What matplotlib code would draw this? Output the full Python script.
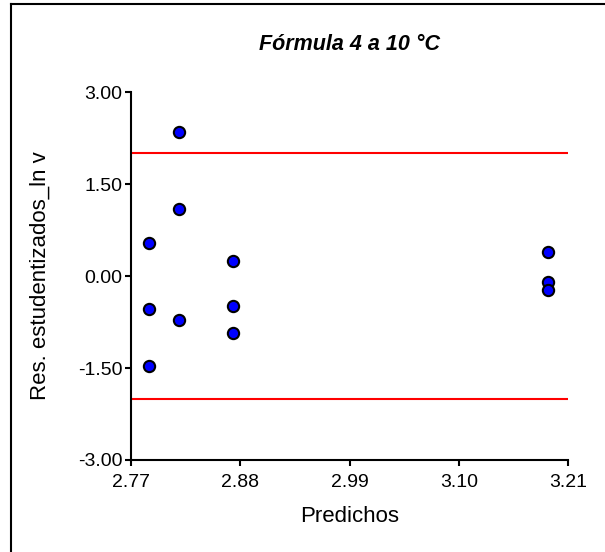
import matplotlib
matplotlib.use("Agg")
import matplotlib.pyplot as plt
from matplotlib.lines import Line2D

plt.rcParams['font.family'] = ['Liberation Sans', 'DejaVu Sans']

predichos = [2.788, 2.788, 2.788, 2.818, 2.818, 2.818, 2.873, 2.873, 2.873, 3.190, 3.190, 3.190]
residuos = [0.543, -0.543, -1.46, 2.35, 1.10, -0.722, 0.245, -0.489, -0.929, 0.396, -0.093, -0.228]
limites = [2.0, -2.0]
xticks = [2.77, 2.88, 2.99, 3.10, 3.21]
yticks = [-3.00, -1.50, 0.00, 1.50, 3.00]

W, H = 605, 552
fig = plt.figure(figsize=(W / 100, H / 100), dpi=100)
ax = fig.add_axes([131 / W, 1 - 460 / H, (568 - 131) / W, (460 - 92) / H])

for lim in limites:
    ax.plot([xticks[0], xticks[-1]], [lim, lim], color='#ff0000', lw=1.5, zorder=2)

ax.scatter(predichos, residuos, s=66, facecolor='#0000ff', edgecolor='black',
           linewidths=1.5, zorder=3, clip_on=False)

ax.set_xlim(xticks[0], xticks[-1])
ax.set_ylim(yticks[0], yticks[-1])
ax.set_xticks(xticks)
ax.set_xticklabels([f"{t:.2f}" for t in xticks])
ax.set_yticks(yticks)
ax.set_yticklabels([f"{t:.2f}" for t in yticks])

for s in ['top', 'right']:
    ax.spines[s].set_visible(False)
for s in ['left', 'bottom']:
    ax.spines[s].set_linewidth(1.5)
ax.tick_params(axis='both', direction='out', length=4, width=1.5, labelsize=14)
ax.tick_params(axis='x', pad=6)
ax.tick_params(axis='y', pad=2)

ax.set_xlabel('Predichos', fontsize=16, labelpad=11)
ax.set_ylabel('Res. estudentizados_ln v', fontsize=16, labelpad=20)
ax.set_title('Fórmula 4 a 10 °C', fontsize=15.5, fontweight='bold', fontstyle='italic', pad=30)

# figure frame (left and top edges visible)
fig.add_artist(Line2D([11 / W, 11 / W], [0, 1 - 4 / H], color='black', lw=1.5, transform=fig.transFigure))
fig.add_artist(Line2D([11 / W, 1], [1 - 4 / H, 1 - 4 / H], color='black', lw=1.5, transform=fig.transFigure))

fig.savefig('out.png', dpi=100)
